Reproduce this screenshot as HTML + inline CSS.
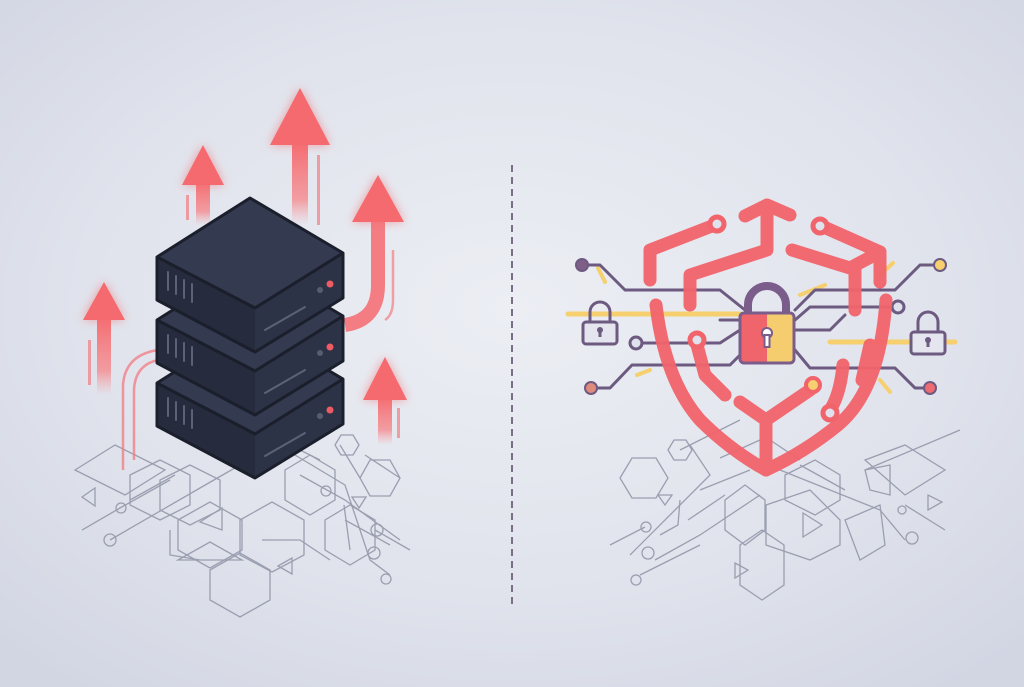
<!DOCTYPE html>
<html><head><meta charset="utf-8"><style>
html,body{margin:0;padding:0;width:1024px;height:687px;overflow:hidden;background:#dfe2ec}
svg{display:block}
</style></head><body>
<svg width="1024" height="687" viewBox="0 0 1024 687" xmlns="http://www.w3.org/2000/svg">
<defs>
<radialGradient id="bg" cx="50%" cy="45%" r="70%">
<stop offset="0" stop-color="#eceef4"/><stop offset="0.6" stop-color="#e0e3ec"/><stop offset="1" stop-color="#d2d6e3"/>
</radialGradient>
<linearGradient id="shaft" x1="0" y1="0" x2="0" y2="1">
<stop offset="0" stop-color="#f46a6e"/><stop offset="0.7" stop-color="#f58a8e" stop-opacity="0.8"/><stop offset="1" stop-color="#f7a0a4" stop-opacity="0"/>
</linearGradient>
<filter id="glow" x="-50%" y="-50%" width="200%" height="200%"><feGaussianBlur stdDeviation="5"/></filter>
<g id="box">
<polygon points="157,257 157,300 255,352 255,308" fill="#262c3d"/>
<polygon points="255,308 255,352 343,298 343,253" fill="#2d3346"/>
<polygon points="157,257 250,198 343,253 255,308" fill="#343a4f"/>
<path d="M157,257 L250,198 L343,253 L343,298 L255,352 L157,300 Z M157,257 L255,308 L343,253" fill="none" stroke="#1b1f2c" stroke-width="3" stroke-linejoin="round"/>
<g stroke="#5b6278" stroke-width="2" stroke-linecap="round">
<line x1="168" y1="272" x2="168" y2="290"/><line x1="176" y1="276" x2="176" y2="294"/><line x1="184" y1="280" x2="184" y2="298"/><line x1="192" y1="284" x2="192" y2="302"/>
<line x1="265" y1="330" x2="305" y2="307"/>
</g>
<circle cx="320" cy="290" r="3" fill="#565d72"/><circle cx="330" cy="284" r="3.5" fill="#ee5b62"/>
</g>
</defs>
<rect width="1024" height="687" fill="url(#bg)"/>

<!-- left network -->
<g fill="none" stroke="#9a9fb0" stroke-width="1.3">
<polygon points="75,470 115,445 165,470 125,495"/>
<polygon points="130,475 160,460 190,475 190,505 160,520 130,505"/>
<polygon points="160,480 190,465 220,480 220,510 190,525 160,510"/>
<polygon points="178,520 210,502 242,520 242,550 210,568 178,550"/>
<polygon points="178,560 210,542 242,560"/>
<polygon points="210,570 240,553 270,570 270,600 240,617 210,600"/>
<polygon points="240,520 272,502 304,520 304,555 272,572 240,555"/>
<polygon points="285,470 310,455 335,470 335,500 310,515 285,500"/>
<polygon points="325,520 350,505 375,520 375,550 350,565 325,550"/>
<polygon points="360,478 370,460 390,460 400,478 390,496 370,496"/>
<polygon points="335,445 341,435 353,435 359,445 353,455 341,455"/>
<polygon points="82,497 95,488 95,506"/>
<polygon points="200,522 222,508 222,530"/>
<polygon points="278,566 292,558 292,574"/>
<polygon points="352,497 366,497 359,508"/>
<path d="M82,530 L120,508 M120,508 L170,480 M110,540 L200,488 L240,465 M130,500 L175,475"/>
<path d="M280,440 L320,460 M295,455 L345,485 L370,560 L390,575 M300,475 L345,500 L400,540 M340,445 L360,478 M345,520 L390,545"/>
<path d="M262,540 L300,540 L330,560 M170,530 L170,555 L200,560"/>
<path d="M344,505 L350,550 M365,455 L400,478"/>
<circle cx="121" cy="508" r="5"/><circle cx="110" cy="540" r="6"/><circle cx="326" cy="491" r="5"/>
<circle cx="377" cy="530" r="6"/><circle cx="374" cy="553" r="6"/><circle cx="386" cy="579" r="5"/>
<path d="M375,530 L410,550"/>
</g>

<!-- arrows -->
<g>
<g filter="url(#glow)" opacity="0.6" fill="#f46a6e">
<polygon points="300,88 330,145 270,145"/><polygon points="203,145 224,185 182,185"/>
<polygon points="378,175 404,222 352,222"/><polygon points="104,282 125,320 83,320"/><polygon points="385,357 407,400 363,400"/>
</g>
<rect x="292" y="140" width="16" height="85" fill="url(#shaft)"/>
<polygon points="300,88 330,145 270,145" fill="#f46a6e"/>
<rect x="317" y="155" width="3" height="70" fill="#f46a6e" opacity="0.6"/>
<rect x="196" y="180" width="14" height="45" fill="url(#shaft)"/>
<rect x="186" y="195" width="3" height="25" fill="#f46a6e" opacity="0.6"/>
<polygon points="203,145 224,185 182,185" fill="#f46a6e"/>
<path d="M378,220 L378,285 Q378,320 345,325" fill="none" stroke="#f46a6e" stroke-width="14" opacity="0.85"/>
<path d="M393,250 L393,300 Q393,315 385,320" fill="none" stroke="#f46a6e" stroke-width="2.5" opacity="0.6"/>
<polygon points="378,175 404,222 352,222" fill="#f46a6e"/>
<rect x="97" y="315" width="14" height="80" fill="url(#shaft)"/>
<rect x="88" y="340" width="3" height="45" fill="#f46a6e" opacity="0.6"/>
<polygon points="104,282 125,320 83,320" fill="#f46a6e"/>
<rect x="378" y="395" width="14" height="50" fill="url(#shaft)"/>
<rect x="397" y="408" width="3" height="30" fill="#f46a6e" opacity="0.6"/>
<polygon points="385,357 407,400 363,400" fill="#f46a6e"/>
<path d="M158,350 Q125,355 123,385 L123,470 M158,360 Q135,365 134,390 L134,460" fill="none" stroke="#f27a80" stroke-width="2.5" opacity="0.75"/>
</g>

<!-- server -->
<use href="#box" y="126"/>
<use href="#box" y="63"/>
<use href="#box"/>

<!-- divider -->
<line x1="512" y1="165" x2="512" y2="605" stroke="#7a6d86" stroke-width="2" stroke-dasharray="7 5"/>

<!-- right network -->
<g fill="none" stroke="#9a9fb0" stroke-width="1.3">
<polygon points="620,478 632,458 656,458 668,478 656,498 632,498"/>
<polygon points="668,450 674,440 686,440 692,450 686,460 674,460"/>
<polygon points="725,500 745,485 765,500 765,530 745,545 725,530"/>
<polygon points="740,545 762,530 784,545 784,585 762,600 740,585"/>
<polygon points="766,505 810,490 840,520 840,545 810,560 766,545"/>
<polygon points="785,475 815,460 840,475 840,500 815,515 785,500"/>
<polygon points="865,460 905,445 945,470 905,495"/>
<polygon points="865,470 890,465 890,495 870,490"/>
<polygon points="845,520 880,505 885,545 860,560"/>
<polygon points="658,495 672,495 665,505"/>
<polygon points="803,513 803,537 822,525"/>
<polygon points="735,563 735,578 748,570"/>
<polygon points="928,495 928,510 942,502"/>
<path d="M690,445 L710,475 L630,555 M680,450 L740,420 M720,458 L760,440 M700,490 L750,470 M688,520 L725,495 M610,545 L645,527 M640,575 L700,545 M655,560 L700,535 L760,495"/>
<path d="M680,500 L678,525 L660,535 M780,470 L880,510 L905,540 M800,465 L845,490 M905,505 L945,530 M865,470 L960,430"/>
<circle cx="646" cy="527" r="5"/><circle cx="648" cy="553" r="6"/><circle cx="636" cy="580" r="5"/>
<circle cx="902" cy="510" r="4"/><circle cx="912" cy="538" r="6"/>
<path d="M770,440 L800,460"/>
</g>

<!-- right circuits -->
<g fill="none" stroke-linecap="round" stroke-linejoin="round">
<path d="M568,314 L740,314 M830,342 L955,342" stroke="#f6cf6e" stroke-width="5"/>
<path d="M598,268 L605,282 M637,375 L650,370 M800,295 L825,285 M880,275 L893,263 M880,380 L890,392" stroke="#f6cf6e" stroke-width="4"/>
<g stroke="#6d5a80" stroke-width="3">
<path d="M587,265 L600,265 L625,290 L720,290 L745,310"/>
<path d="M592,388 L610,388 L632,365 L730,365 L745,350"/>
<path d="M640,343 L720,343 L740,330"/>
<path d="M935,265 L920,265 L895,290 L815,290 L795,310"/>
<path d="M930,388 L915,388 L895,368 L810,368 L795,350"/>
<path d="M898,307 L810,307 L795,320"/>
<path d="M720,320 L740,320 M795,330 L830,330 L845,315"/>
</g>
<circle cx="582" cy="265" r="6" fill="#7f5f88" stroke="#6d5a80" stroke-width="2"/>
<circle cx="940" cy="265" r="6" fill="#f6cf6e" stroke="#6d5a80" stroke-width="2"/>
<circle cx="591" cy="388" r="6" fill="#e08a7c" stroke="#6d5a80" stroke-width="2"/>
<circle cx="930" cy="388" r="6" fill="#ee6a72" stroke="#6d5a80" stroke-width="2"/>
<circle cx="636" cy="343" r="6" fill="#dfe2ec" stroke="#6d5a80" stroke-width="3"/>
<circle cx="898" cy="307" r="6" fill="#dfe2ec" stroke="#6d5a80" stroke-width="3"/>
<!-- small locks -->
<path d="M590,322 L590,312 A10,10 0 0 1 610,312 L610,322" stroke="#6d5a80" stroke-width="3"/>
<rect x="583" y="322" width="34" height="22" rx="3" fill="#e4e5ee" stroke="#6d5a80" stroke-width="3"/>
<circle cx="600" cy="330" r="3" fill="#6d5a80"/><rect x="598.5" y="330" width="3" height="7" fill="#6d5a80"/>
<path d="M918,332 L918,322 A10,10 0 0 1 938,322 L938,332" stroke="#6d5a80" stroke-width="3"/>
<rect x="911" y="332" width="34" height="22" rx="3" fill="#e4e5ee" stroke="#6d5a80" stroke-width="3"/>
<circle cx="928" cy="340" r="3" fill="#6d5a80"/><rect x="926.5" y="340" width="3" height="7" fill="#6d5a80"/>
</g>

<!-- shield -->
<g fill="none" stroke="#f2646b" stroke-width="13" stroke-linecap="round" stroke-linejoin="round" opacity="0.95">
<path d="M650,280 L650,250 L712,226"/>
<path d="M745,216 L767,205 L790,215"/>
<path d="M767,210 L767,250 L690,275 L690,305"/>
<path d="M826,228 L880,252 L880,282"/>
<path d="M792,250 L850,268 L880,252"/>
<path d="M855,270 L855,310"/>
<path d="M656,305 Q665,380 700,420 Q730,450 766,470"/>
<path d="M886,300 Q880,390 838,425 Q805,452 766,470"/>
<path d="M766,468 L766,420 L740,402"/>
<path d="M766,420 L810,390"/>
<path d="M697,345 L705,375 L725,395"/>
<path d="M870,345 L862,380"/>
<path d="M843,365 Q840,395 830,410"/>
</g>
<g fill="#dfe2ec" stroke="#f2646b" stroke-width="5">
<circle cx="717" cy="224" r="7"/><circle cx="820" cy="226" r="7"/><circle cx="697" cy="340" r="7"/><circle cx="830" cy="413" r="7"/>
</g>
<circle cx="813" cy="385" r="7" fill="#f6cf6e" stroke="#f2646b" stroke-width="4"/>
<!-- main lock -->
<path d="M748,315 L748,305 A19,19 0 0 1 786,305 L786,315" fill="none" stroke="#7b5d8c" stroke-width="8"/>
<rect x="740" y="313" width="27" height="50" fill="#f0646b"/>
<rect x="767" y="313" width="27" height="50" fill="#f6cd6e"/>
<rect x="740" y="313" width="54" height="50" rx="4" fill="none" stroke="#7b5d8c" stroke-width="3"/>
<circle cx="767" cy="333" r="5" fill="#fff" stroke="#7b5d8c" stroke-width="2"/>
<rect x="764.5" y="335" width="5" height="12" fill="#fff" stroke="#7b5d8c" stroke-width="2"/>
</svg>
</body></html>
